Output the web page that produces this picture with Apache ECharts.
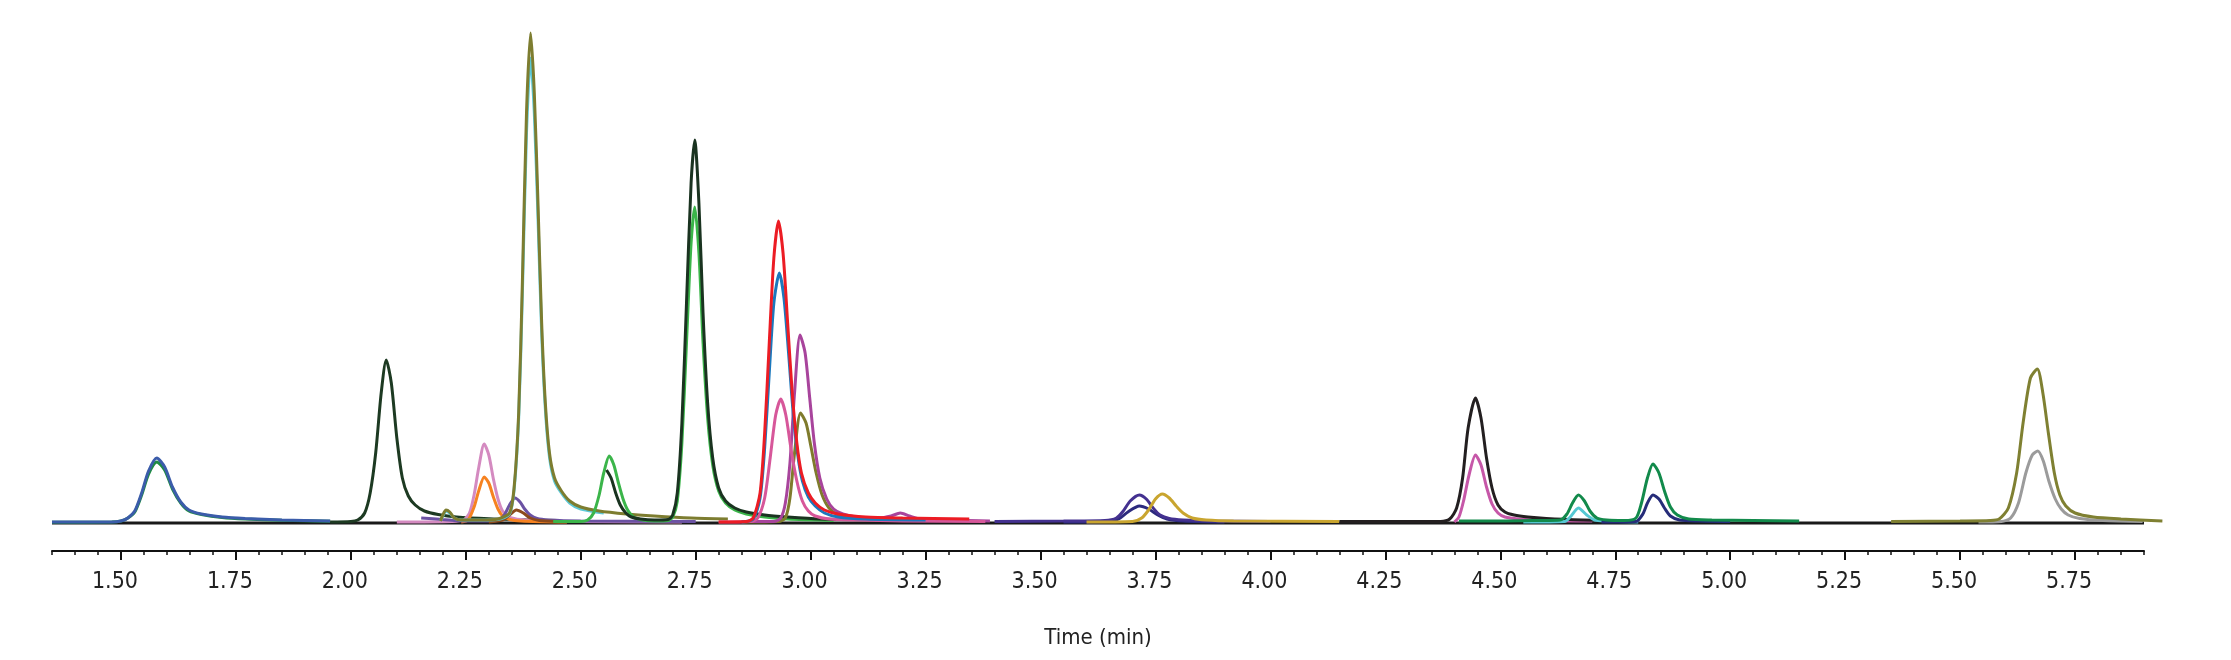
<!DOCTYPE html>
<html>
<head>
<meta charset="utf-8">
<title>Chromatogram</title>
<script src="https://cdn.jsdelivr.net/npm/echarts@6/dist/echarts.min.js"></script>
<style>
  html, body { margin: 0; padding: 0; background: #fff; }
  #chart { width: 2231px; height: 660px; }
</style>
</head>
<body>
<div id="chart"></div>
<script>
// traces: [time (min), response]
const baseline = [[1.35, 0], [5.90, 0]]
const green158 = [[1.35, 0.8], [1.48, 1], [1.50, 2], [1.515, 5], [1.53, 11], [1.545, 28], [1.56, 49], [1.578, 61], [1.595, 53], [1.612, 34], [1.63, 20], [1.648, 12], [1.675, 8.5], [1.72, 5.5], [1.77, 4], [1.85, 2.8], [1.955, 1.8]]
const blue158 = [[1.35, 1], [1.48, 1], [1.50, 2], [1.515, 5], [1.53, 12], [1.545, 30], [1.56, 52], [1.578, 65], [1.595, 56], [1.612, 36], [1.63, 21], [1.648, 13], [1.675, 9], [1.72, 6], [1.77, 4.5], [1.85, 3], [1.955, 2]]
const dark208 = [[1.955, 1], [2.0, 1.5], [2.015, 3], [2.03, 10], [2.042, 30], [2.054, 70], [2.066, 130], [2.077, 163], [2.088, 140], [2.10, 85], [2.112, 45], [2.125, 27], [2.14, 18], [2.16, 12], [2.19, 8.5], [2.23, 6], [2.30, 4.2], [2.38, 3.2], [2.45, 2.5]]
const pink229 = [[2.10, 1], [2.22, 1.5], [2.245, 3], [2.258, 10], [2.268, 28], [2.278, 55], [2.29, 79], [2.30, 68], [2.31, 44], [2.32, 24], [2.33, 12], [2.345, 6], [2.37, 3.5], [2.42, 2], [2.50, 1.5], [2.72, 1]]
const orange229 = [[2.24, 1], [2.255, 3], [2.268, 16], [2.278, 32], [2.29, 46], [2.30, 40], [2.31, 26], [2.32, 14], [2.33, 7], [2.345, 3.5], [2.37, 2], [2.47, 1]]
const purple236 = [[2.153, 5], [2.20, 3.5], [2.25, 2], [2.31, 2], [2.325, 4], [2.335, 9], [2.345, 18], [2.357, 25], [2.368, 21], [2.378, 14], [2.39, 8], [2.405, 4.5], [2.43, 3], [2.50, 2], [2.75, 1.5]]
const brown236 = [[2.30, 1], [2.33, 3], [2.345, 8], [2.36, 13], [2.375, 10], [2.39, 5], [2.41, 2.5], [2.45, 1.5]]
const cyan239 = [[2.195, 2], [2.20, 7], [2.207, 12], [2.215, 10], [2.225, 5], [2.24, 3], [2.28, 3], [2.32, 3.5], [2.345, 9], [2.355, 33], [2.365, 105], [2.373, 228], [2.382, 390], [2.391, 465], [2.399, 410], [2.407, 305], [2.415, 190], [2.423, 114], [2.432, 66], [2.443, 42], [2.458, 30], [2.476, 20], [2.50, 14], [2.55, 10]]
const olive239 = [[2.195, 2], [2.20, 8], [2.207, 13], [2.215, 11], [2.225, 5], [2.24, 3], [2.28, 3], [2.32, 4], [2.345, 10], [2.355, 35], [2.365, 110], [2.373, 240], [2.382, 410], [2.391, 490], [2.399, 430], [2.407, 320], [2.415, 200], [2.423, 120], [2.432, 70], [2.443, 45], [2.458, 32], [2.476, 22], [2.50, 16], [2.54, 12], [2.60, 9], [2.66, 7], [2.74, 5], [2.82, 4]]
const green256 = [[2.44, 1.5], [2.50, 1.5], [2.515, 3], [2.528, 10], [2.54, 28], [2.55, 50], [2.562, 67], [2.572, 58], [2.582, 40], [2.592, 24], [2.602, 13], [2.615, 6], [2.635, 3], [2.66, 2], [2.69, 2.5], [2.70, 6], [2.71, 22], [2.72, 80], [2.73, 180], [2.74, 280], [2.748, 316], [2.757, 270], [2.766, 180], [2.776, 105], [2.787, 58], [2.80, 32], [2.815, 20], [2.835, 13], [2.86, 9], [2.90, 6], [2.95, 4], [3.05, 2.5]]
const dark275 = [[2.556, 53], [2.566, 45], [2.576, 30], [2.586, 18], [2.598, 10], [2.61, 6], [2.63, 4], [2.66, 3], [2.69, 3.5], [2.70, 8], [2.71, 30], [2.72, 100], [2.73, 220], [2.74, 340], [2.748, 383], [2.757, 320], [2.766, 210], [2.776, 120], [2.787, 65], [2.80, 35], [2.815, 22], [2.835, 15], [2.86, 11], [2.90, 8], [2.95, 6], [3.02, 4], [3.14, 3]]
const olive298 = [[2.85, 1], [2.93, 1.5], [2.945, 5], [2.955, 25], [2.965, 70], [2.978, 110], [2.99, 100], [3.0, 78], [3.012, 50], [3.025, 28], [3.04, 15], [3.06, 8], [3.09, 5], [3.15, 3]]
const magenta298 = [[2.85, 1.5], [2.92, 1.5], [2.935, 5], [2.945, 20], [2.955, 60], [2.965, 130], [2.977, 188], [2.988, 170], [2.998, 125], [3.008, 80], [3.02, 45], [3.035, 24], [3.05, 14], [3.07, 9], [3.10, 6], [3.15, 5], [3.175, 7], [3.195, 10], [3.215, 7], [3.24, 4], [3.30, 3], [3.39, 2]]
const pink293 = [[2.80, 1], [2.87, 1.5], [2.885, 5], [2.90, 25], [2.912, 65], [2.924, 108], [2.935, 124], [2.946, 108], [2.958, 72], [2.97, 42], [2.982, 22], [2.995, 12], [3.01, 7], [3.04, 4], [3.10, 3], [3.20, 2], [3.38, 1.5]]
const blue293 = [[2.85, 1], [2.875, 4], [2.89, 25], [2.90, 75], [2.91, 150], [2.92, 220], [2.932, 250], [2.942, 225], [2.952, 170], [2.962, 110], [2.972, 68], [2.982, 42], [2.995, 26], [3.01, 17], [3.03, 10], [3.06, 6], [3.12, 4], [3.25, 3]]
const red293 = [[2.80, 1], [2.86, 1.5], [2.875, 5], [2.89, 30], [2.90, 90], [2.91, 180], [2.92, 265], [2.93, 302], [2.94, 270], [2.95, 200], [2.96, 130], [2.97, 80], [2.98, 50], [2.995, 30], [3.01, 20], [3.03, 13], [3.06, 9], [3.12, 6], [3.20, 5], [3.345, 4]]
const navy372 = [[3.55, 1], [3.65, 1.5], [3.67, 4], [3.69, 11], [3.715, 17], [3.735, 14], [3.755, 8], [3.775, 4], [3.81, 2], [3.90, 1]]
const indigo372 = [[3.40, 1.5], [3.55, 2], [3.64, 2.5], [3.665, 5], [3.68, 12], [3.695, 22], [3.715, 28], [3.73, 24], [3.745, 15], [3.76, 8], [3.78, 4.5], [3.81, 3], [3.87, 2], [4.00, 1.5]]
const gold377 = [[3.60, 1], [3.70, 1.5], [3.72, 5], [3.735, 13], [3.75, 24], [3.765, 29], [3.78, 25], [3.795, 17], [3.81, 10], [3.83, 5], [3.86, 3], [3.92, 2], [4.15, 1.5]]
const magenta445 = [[4.40, 1], [4.41, 6], [4.42, 22], [4.432, 48], [4.446, 68], [4.458, 58], [4.47, 36], [4.482, 19], [4.495, 10], [4.51, 6], [4.54, 4], [4.60, 2.5], [4.70, 2]]
const black445 = [[4.15, 1.5], [4.37, 1.5], [4.39, 4], [4.405, 15], [4.418, 45], [4.43, 95], [4.446, 125], [4.458, 105], [4.47, 65], [4.482, 35], [4.495, 18], [4.51, 11], [4.53, 8], [4.56, 6], [4.60, 4.5], [4.68, 3], [4.745, 2.5]]
const cyan467 = [[4.55, 1], [4.64, 1.5], [4.652, 6], [4.670, 15], [4.688, 8], [4.705, 3], [4.73, 2], [4.80, 1]]
const navy483 = [[4.72, 1], [4.795, 1.5], [4.81, 9], [4.82, 20], [4.832, 28], [4.845, 24], [4.857, 15], [4.87, 7], [4.89, 3], [4.93, 2], [5.00, 1.5]]
const teal467 = [[4.41, 2], [4.50, 2], [4.58, 2.5], [4.63, 3], [4.645, 9], [4.657, 20], [4.670, 28], [4.683, 22], [4.695, 12], [4.71, 5], [4.73, 3], [4.77, 2.5], [4.795, 5], [4.807, 20], [4.82, 45], [4.832, 59], [4.845, 50], [4.857, 32], [4.87, 16], [4.885, 8], [4.91, 4], [4.96, 3], [5.05, 2.5], [5.15, 2]]
const gray568 = [[5.54, 1], [5.59, 1.5], [5.61, 5], [5.627, 20], [5.643, 50], [5.657, 68], [5.669, 72], [5.681, 62], [5.693, 42], [5.707, 24], [5.72, 14], [5.735, 8], [5.76, 4.5], [5.81, 2.5], [5.897, 1.5]]
const olive568 = [[5.35, 1.5], [5.50, 2], [5.565, 2.5], [5.585, 4], [5.605, 15], [5.623, 50], [5.637, 100], [5.653, 145], [5.668, 154], [5.68, 130], [5.692, 90], [5.705, 50], [5.717, 28], [5.73, 17], [5.75, 10], [5.79, 6], [5.85, 4], [5.94, 2]]

// draw order bottom -> top, with line colours
const traces = [
    [baseline, '#1a1a1a'],
    [green158, '#1f8b43'],
    [blue158, '#3b5caa'],
    [dark208, '#1d3a22'],
    [pink229, '#d48ac0'],
    [orange229, '#f68220'],
    [purple236, '#6b52a3'],
    [brown236, '#8c4a1c'],
    [cyan239, '#5cc8d6'],
    [olive239, '#7d7d30'],
    [green256, '#3bb54a'],
    [dark275, '#1a3320'],
    [olive298, '#7f7b2c'],
    [magenta298, '#a8449c'],
    [pink293, '#d7579a'],
    [blue293, '#1b78bd'],
    [red293, '#ec1c24'],
    [navy372, '#2c2a7e'],
    [indigo372, '#443190'],
    [gold377, '#c9a52f'],
    [magenta445, '#c657a8'],
    [black445, '#231f20'],
    [cyan467, '#55c7d2'],
    [navy483, '#262c79'],
    [teal467, '#128a4b'],
    [gray568, '#9b9b9b'],
    [olive568, '#7f8032']
]
// these run a little past the axis end
const overrun = [gray568, olive568]

const chart = echarts.init(document.getElementById('chart'), null, {renderer: 'canvas'})
const axisFont = '"DejaVu Sans Condensed", "Liberation Sans Narrow", "Liberation Sans", sans-serif'

// 2092 px for 4.55 min on the main grid
const pxPerMin = 2092 / 4.55
const gridTop = 20
const gridBottom = 109

const option = {
    animation: false,
    backgroundColor: '#fff',
    grid: [
        {left: 52, right: 87, top: gridTop, bottom: gridBottom},
        // same scale, 0.05 min wider on the right
        {left: 52, right: 87 - 0.05 * pxPerMin, top: gridTop, bottom: gridBottom},
        // same scale, 1.50 .. 5.75 for the labelled ticks
        {left: 52 + 0.15 * pxPerMin, right: 87 + 0.15 * pxPerMin, top: gridTop, bottom: gridBottom}
    ],
    xAxis: [
        {
            type: 'value',
            gridIndex: 0,
            position: 'bottom',
            min: 1.35,
            max: 5.9,
            interval: 0.05,
            name: 'Time (min)',
            nameLocation: 'middle',
            nameGap: 76,
            nameTextStyle: {color: '#222', fontSize: 22, fontFamily: axisFont},
            axisLine: {show: true, onZero: false, lineStyle: {color: '#111', width: 2}},
            axisTick: {show: true, length: 4, lineStyle: {color: '#111', width: 1.5}},
            axisLabel: {show: false},
            splitLine: {show: false}
        },
        {
            type: 'value',
            gridIndex: 1,
            min: 1.35,
            max: 5.95,
            show: false
        },
        {
            type: 'value',
            gridIndex: 2,
            position: 'bottom',
            min: 1.5,
            max: 5.75,
            interval: 0.25,
            axisLine: {show: false, onZero: false},
            axisTick: {show: true, length: 9, lineStyle: {color: '#111', width: 2}},
            axisLabel: {
                margin: 20,
                padding: [0, 12, 0, 0],
                color: '#222',
                fontSize: 23,
                fontFamily: axisFont,
                showMinLabel: true,
                showMaxLabel: true,
                formatter: v => v.toFixed(2)
            },
            splitLine: {show: false}
        }
    ],
    yAxis: [
        {type: 'value', gridIndex: 0, min: -28, max: 503, show: false, splitLine: {show: false}},
        {type: 'value', gridIndex: 1, min: -28, max: 503, show: false, splitLine: {show: false}},
        {type: 'value', gridIndex: 2, min: -28, max: 503, show: false, splitLine: {show: false}}
    ],
    series: traces.map(([data, color], i) => {
        const wide = overrun.includes(data)
        return {
            type: 'line',
            data: data,
            xAxisIndex: wide ? 1 : 0,
            yAxisIndex: wide ? 1 : 0,
            showSymbol: false,
            symbol: 'none',
            smooth: 0.25,
            z: 2 + i,
            lineStyle: {color: color, width: 3}
        }
    })
}

chart.setOption(option)
</script>
</body>
</html>
